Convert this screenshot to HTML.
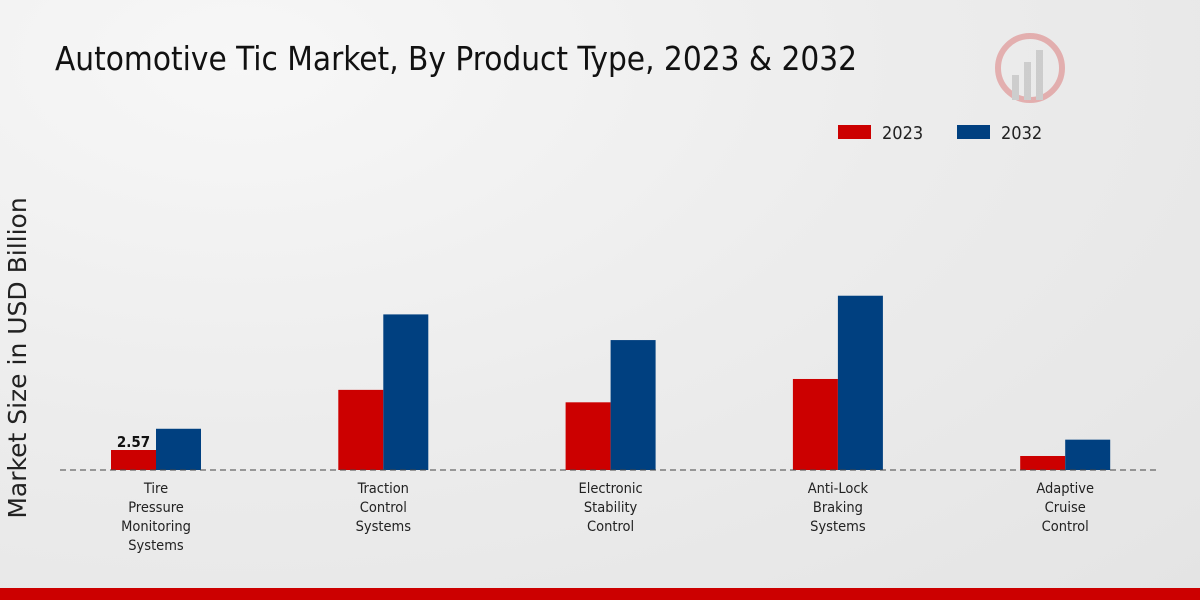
<!DOCTYPE html>
<html><head><meta charset="utf-8"><style>
body{margin:0;width:1200px;height:600px;overflow:hidden;background:radial-gradient(ellipse at 20% 10%,#f7f7f7 0%,#ececec 50%,#e4e4e4 100%);font-family:"DejaVu Sans Condensed","DejaVu Sans","Liberation Sans",sans-serif;}
svg{position:absolute;left:0;top:0}
</style></head><body>
<svg width="1200" height="600" id="chart">
<text x="55" y="70" font-size="33" fill="#111">Automotive Tic Market, By Product Type, 2023 &amp; 2032</text>
<g>
<rect x="838" y="125" width="33" height="14" fill="#cc0000"/>
<text x="882" y="139" font-size="18" fill="#222">2023</text>
<rect x="957" y="125" width="33" height="14" fill="#004080"/>
<text x="1001" y="139" font-size="18" fill="#222">2032</text>
</g>
<text transform="translate(26,358) rotate(-90)" text-anchor="middle" font-size="25" fill="#222" font-family="DejaVu Sans, sans-serif">Market Size in USD Billion</text>
<g id="bars"></g>
<line x1="60" y1="470" x2="1160" y2="470" stroke="#444" stroke-dasharray="6,4"/>
<g id="labels"></g>
<g opacity="0.25">
<circle cx="1030" cy="68" r="32" fill="none" stroke="#c00" stroke-width="6"/>
<rect x="1012" y="75" width="7" height="25" fill="#777"/><rect x="1024" y="62" width="7" height="38" fill="#777"/><rect x="1036" y="50" width="7" height="50" fill="#777"/>
</g>
<rect x="0" y="588" width="1200" height="12" fill="#cc0000"/>
</svg>
<script>
const categories=[["Tire","Pressure","Monitoring","Systems"],["Traction","Control","Systems"],["Electronic","Stability","Control"],["Anti-Lock","Braking","Systems"],["Adaptive","Cruise","Control"]];
const values2023=[2.57,10.3,8.7,11.7,1.8];
const values2032=[5.3,20.0,16.7,22.4,3.9];
const NS="http://www.w3.org/2000/svg";
const base=470,scale=7.78,x0=156,step=227.3,bw=45;
const y=v=>base-v*scale;
const bars=document.getElementById('bars'),labels=document.getElementById('labels');
categories.forEach((c,i)=>{
 const cx=x0+i*step;
 [[values2023[i],cx-bw,'#cc0000','2023'],[values2032[i],cx,'#004080','2032']].forEach(([v,x,col,s])=>{
  const r=document.createElementNS(NS,'rect');
  r.setAttribute('x',x);r.setAttribute('y',y(v));r.setAttribute('width',bw);r.setAttribute('height',base-y(v));r.setAttribute('fill',col);
  
  
  bars.appendChild(r);
 });
 c.forEach((l,j)=>{
  const t=document.createElementNS(NS,'text');
  t.setAttribute('x',cx);t.setAttribute('y',493+j*19);t.setAttribute('text-anchor','middle');t.setAttribute('font-size','14.5');t.setAttribute('fill','#222');
  t.textContent=l;
  
  
  labels.appendChild(t);
 });
});
const vl=document.createElementNS(NS,'text');
vl.setAttribute('x',x0-bw/2);vl.setAttribute('y',y(values2023[0])-3);vl.setAttribute('text-anchor','middle');vl.setAttribute('font-size','15');vl.setAttribute('font-weight','bold');vl.setAttribute('fill','#111');
vl.textContent=values2023[0].toFixed(2);


labels.appendChild(vl);
</script>
</body></html>
